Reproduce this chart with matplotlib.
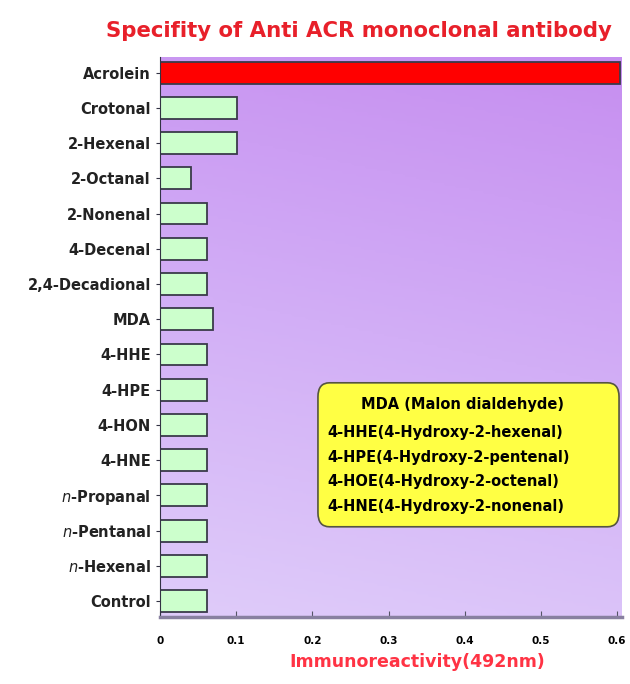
import numpy as np
import matplotlib.pyplot as plt
from matplotlib.patches import FancyBboxPatch
from matplotlib.colors import LinearSegmentedColormap

# --- data ---
compounds = ["Acrolein", "Crotonal", "2-Hexenal", "2-Octanal", "2-Nonenal",
             "4-Decenal", "2,4-Decadional", "MDA", "4-HHE", "4-HPE",
             "4-HON", "4-HNE", "$n$-Propanal", "$n$-Pentanal", "$n$-Hexenal",
             "Control"]
reactivity = [0.603, 0.101, 0.101, 0.040, 0.062, 0.062, 0.062, 0.070,
              0.062, 0.062, 0.062, 0.062, 0.062, 0.062, 0.062, 0.062]
xticks = [0, 0.1, 0.2, 0.3, 0.4, 0.5, 0.6]
notes = ["MDA (Malon dialdehyde)",
         "4-HHE(4-Hydroxy-2-hexenal)",
         "4-HPE(4-Hydroxy-2-pentenal)",
         "4-HOE(4-Hydroxy-2-octenal)",
         "4-HNE(4-Hydroxy-2-nonenal)"]

fig = plt.figure(figsize=(6.3, 6.84), dpi=100)
ax = fig.add_axes([0.254, 0.098, 0.733, 0.819])

# purple gradient background (saturated at the top, lavender at the bottom)
cmap = LinearSegmentedColormap.from_list("bg", ["#dfccfa", "#d2aef6", "#c68ef0"])
gx, gy = np.meshgrid(np.linspace(0, 1, 200), np.linspace(0, 1, 200))
grad = 0.85 * gy + 0.15 * gx
ax.imshow(grad, extent=[0, 1, 0, 1], transform=ax.transAxes, origin="lower",
          cmap=cmap, aspect="auto", zorder=0)

y = np.arange(len(compounds))
colors = ["#ff0000"] + ["#ccffcc"] * (len(compounds) - 1)
ax.barh(y, reactivity, height=0.62, color=colors, edgecolor="#3a3a4a",
        linewidth=1.3, zorder=2)

ax.set_xlim(0, 0.606)
ax.set_ylim(len(compounds) - 0.55, -0.45)
ax.set_yticks(y)
ax.set_yticklabels(compounds, fontsize=10.5, fontweight="bold", color="#222222")
ax.set_xticks(xticks)
ax.set_xticklabels([f"{v:g}" for v in xticks], fontsize=7.5, fontweight="bold")
ax.tick_params(axis="x", direction="in", length=4, pad=14, color="#555566")
ax.tick_params(axis="y", direction="out", length=3, color="#333344")
for side in ["top", "right"]:
    ax.spines[side].set_visible(False)
ax.spines["left"].set_color("#333344")
ax.spines["bottom"].set_color("#8880a0")
ax.spines["bottom"].set_linewidth(2.5)

ax.set_xlabel("Immunoreactivity(492nm)", color="#ff3344", fontsize=12.5,
              fontweight="bold", labelpad=5)
ax.xaxis.set_label_coords(0.556, -0.065)
fig.text(0.57, 0.955, "Specifity of Anti ACR monoclonal antibody",
         color="#e8202a", fontsize=15.3, fontweight="heavy", ha="center",
         va="center")

# yellow note box
box = FancyBboxPatch((0.342, 0.161), 0.652, 0.257,
                     boxstyle="round,pad=0,rounding_size=0.025",
                     transform=ax.transAxes, facecolor="#ffff44",
                     edgecolor="#555540", linewidth=1.2, zorder=3)
ax.add_patch(box)
ax.text(0.654, 0.380, notes[0], transform=ax.transAxes, ha="center",
        va="center", fontsize=10.5, fontweight="bold", zorder=4)
for i, line in enumerate(notes[1:]):
    ax.text(0.362, 0.329 - i * 0.044, line, transform=ax.transAxes,
            ha="left", va="center", fontsize=10.5, fontweight="bold", zorder=4)

fig.savefig("out.png", dpi=100)
